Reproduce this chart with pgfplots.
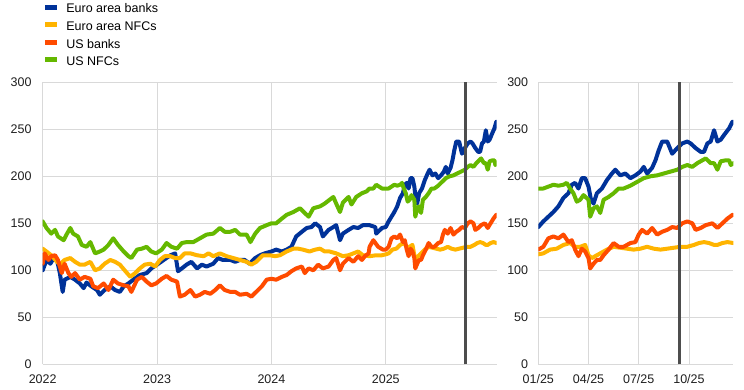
\documentclass[border=0pt]{standalone}
\usepackage{fontspec}
\setmainfont{Liberation Sans}
\usepackage{pgfplots}
\pgfplotsset{compat=1.18}
\usepackage{pgfplotstable}
\definecolor{eab}{HTML}{003299}
\definecolor{ean}{HTML}{FFB400}
\definecolor{usb}{HTML}{FF4B00}
\definecolor{usn}{HTML}{65B800}
\definecolor{gridc}{HTML}{D9D9D9}
\definecolor{vline}{HTML}{4D4D4D}

% m = months since 1 Jan 2022
\pgfplotstableread{
m v
0.0 100
0.4 111
0.8 107
1.1 112
1.5 111
1.8 97
2.1 77
2.3 90
2.9 93
3.4 90
3.9 86
4.3 81
4.6 87
5.1 83
5.7 79
6.0 74
6.5 79
7.1 83
7.6 79
8.1 77
8.5 83
9.0 86
9.5 90
10.2 95
10.9 97
11.4 102
12.0 106
12.7 111
13.4 116
13.9 118
14.2 99
14.6 102
15.1 106
15.6 109
16.2 102
16.7 106
17.2 104
17.9 107
18.4 113
18.9 111
19.7 111
20.2 109
20.7 111
21.2 111
21.7 107
22.3 113
22.8 116
23.3 118
24.0 120
24.5 122
25.1 120
25.6 122
26.1 125
26.6 136
27.2 141
27.7 145
28.2 146
28.6 150
29.1 146
29.4 136
30.0 143
30.5 146
30.8 148
31.2 132
31.5 139
32.1 143
32.6 146
33.1 145
33.6 148
34.3 148
34.9 146
35.0 139
35.6 145
36.0 146
36.3 152
36.6 157
36.9 162
37.2 168
37.5 177
37.8 182
38.0 191
38.2 193
38.4 187
38.6 198
38.8 198
39.0 189
39.15 175
39.3 171
39.5 182
39.8 187
40.1 196
40.4 203
40.6 207
40.9 201
41.2 203
41.5 198
41.8 201
42.1 205
42.3 210
42.5 203
42.8 209
43.0 217
43.2 228
43.4 237
43.7 237
44.0 224
44.3 230
44.6 235
44.9 237
45.1 235
45.4 230
45.7 226
45.9 226
46.1 235
46.3 237
46.5 249
46.7 237
46.9 239
47.1 244
47.4 251
47.6 258
}\tabEAB

\pgfplotstableread{
m v
0.0 123
0.4 120
0.9 116
1.5 109
1.8 106
2.3 111
2.9 113
3.4 109
3.9 106
4.4 106
5.0 109
5.5 100
6.0 102
6.5 107
7.1 111
7.6 109
8.1 106
8.6 100
9.2 93
9.7 97
10.2 102
10.7 106
11.3 107
11.8 104
12.3 111
12.8 115
13.4 115
13.9 113
14.4 113
14.9 118
15.5 118
16.2 116
16.9 115
17.4 118
17.9 115
18.6 118
19.3 115
20.0 113
20.7 111
21.4 109
21.9 106
22.4 109
23.1 116
23.8 116
24.4 115
24.9 116
25.6 120
26.3 123
26.8 123
27.3 122
28.0 120
28.6 122
29.1 123
29.6 120
30.1 120
30.8 118
31.5 115
32.1 116
32.6 118
33.1 120
33.6 116
34.3 115
35.0 116
35.6 116
36.0 117
36.3 118
36.7 122
37.1 123
37.5 127
37.9 129
38.2 125
38.5 125
38.8 127
39.0 116
39.2 113
39.4 115
39.7 118
40.1 122
40.5 125
40.9 124
41.3 123
41.7 122
42.1 123
42.5 125
42.9 123
43.3 122
43.7 123
44.1 124
44.5 125
44.9 125
45.3 127
45.6 129
45.9 130
46.2 129
46.5 127
46.7 127
47.0 129
47.3 130
47.65 129
}\tabEAN

\pgfplotstableread{
m v
0.0 107
0.2 118
0.6 111
0.9 115
1.3 116
1.6 111
2.0 97
2.3 107
2.7 97
3.0 93
3.4 97
3.9 90
4.4 93
5.0 91
5.3 83
5.8 81
6.4 86
6.9 79
7.4 90
7.9 86
8.5 84
9.0 83
9.3 77
9.9 90
10.4 93
10.9 88
11.4 84
11.9 86
12.5 91
13.0 94
13.5 90
14.1 88
14.4 72
14.9 74
15.5 79
16.0 72
16.5 74
17.0 77
17.6 75
18.1 79
18.6 84
19.1 79
19.7 77
20.2 77
20.7 74
21.4 75
21.9 72
22.4 77
23.0 83
23.5 90
24.0 91
24.5 90
25.1 93
25.6 95
26.1 99
26.6 102
27.2 104
27.5 97
27.9 102
28.4 100
28.9 106
29.4 102
30.0 104
30.5 111
30.8 113
31.2 100
31.5 107
32.1 113
32.6 109
33.1 115
33.5 111
33.8 115
34.2 118
34.3 125
34.7 132
35.2 125
35.7 122
36.0 122
36.3 125
36.6 134
36.9 136
37.2 134
37.5 138
37.8 130
38.0 132
38.2 122
38.4 115
38.6 123
38.8 120
39.0 113
39.1 102
39.3 107
39.5 111
39.7 111
39.9 116
40.2 122
40.5 129
40.8 125
41.1 125
41.5 129
41.8 130
42.0 138
42.2 143
42.5 139
42.8 145
43.1 138
43.4 141
43.7 143
44.0 146
44.3 145
44.6 150
44.9 152
45.2 150
45.4 143
45.7 145
46.0 148
46.4 150
46.7 145
47.0 150
47.3 155
47.6 159
}\tabUSB

\pgfplotstableread{
m v
0.0 152
0.4 145
0.9 139
1.3 143
1.6 136
2.2 132
2.5 138
2.9 145
3.2 139
3.7 136
4.1 127
4.6 125
5.0 130
5.5 118
6.0 120
6.4 122
6.9 127
7.4 134
7.9 127
8.5 120
9.0 115
9.3 113
9.9 122
10.4 123
10.9 125
11.4 120
11.9 118
12.5 122
13.0 129
13.5 125
14.1 123
14.6 129
15.1 130
15.8 130
16.5 134
17.2 138
17.9 139
18.6 145
19.1 141
19.7 141
20.2 143
20.7 138
21.4 138
21.8 130
22.3 139
22.8 145
23.5 148
24.0 150
24.5 150
25.1 155
25.6 159
26.3 162
27.0 166
27.5 161
27.9 157
28.4 166
29.1 168
29.6 171
30.1 175
30.5 178
30.8 171
31.2 162
31.5 172
32.1 178
32.4 170
32.9 178
33.5 182
34.0 184
34.3 187
34.7 187
35.0 191
35.6 187
36.0 187
36.3 187
36.6 189
36.9 191
37.2 190
37.5 191
37.7 193
37.9 187
38.1 182
38.3 173
38.5 175
38.7 180
39.0 175
39.1 157
39.3 166
39.5 168
39.7 161
39.9 175
40.2 178
40.5 182
40.8 187
41.1 187
41.5 190
41.9 194
42.3 198
42.7 200
43.1 201
43.5 203
43.9 205
44.3 207
44.6 210
44.9 212
45.2 210
45.5 214
45.8 217
46.0 219
46.3 214
46.5 214
46.7 207
46.9 216
47.2 217
47.4 217
47.5 212
47.65 214
}\tabUSN

\begin{document}
\begin{tikzpicture}
\useasboundingbox (0,0) rectangle (744pt,390pt);
\pgfplotsset{
  common/.style={
    scale only axis,
    height=282pt,
    ymin=0, ymax=300,
    ytick={0,50,100,150,200,250,300},
    grid=major,
    grid style={color=gridc, line width=0.8pt},
    axis line style={draw=none},
    major tick length=0pt,
    tick label style={font=\fontsize{12.5}{15}\selectfont, text=black!88},
    /pgf/number format/assume math mode=true,
    yticklabel style={anchor=east, inner sep=0pt},
    xticklabel style={anchor=north, inner sep=0pt, yshift=-10pt},
    every axis plot/.append style={line width=4pt, line join=round, line cap=round},
  },
}
\begin{axis}[common,
  at={(42.7pt,25.7pt)}, anchor=south west,
  width=454pt,
  xmin=2022, xmax=2025.97,
  xtick={2022,2023,2024,2025},
  xticklabels={2022,2023,2024,2025},
  yticklabel style={xshift=-11pt},
  legend cell align=left,
  legend style={at={(axis description cs:0,1)}, anchor=north west,
    yshift=78.3pt, draw=none, fill=none, inner sep=0pt, outer sep=0pt,
    row sep=4.8pt,
    font=\fontsize{12.5}{15}\selectfont,
    nodes={inner sep=0pt, text height=9pt, text depth=2.5pt},
    /tikz/every odd column/.append style={column sep=9pt}},
  legend image code/.code={\fill[draw=none] (0pt,0pt) rectangle (12.6pt,5pt); \path (0pt,-5pt);},
]
\addplot[color=eab] table[x expr=2022+\thisrow{m}/12, y=v] {\tabEAB};
\addlegendentry{Euro area banks}
\addplot[color=ean] table[x expr=2022+\thisrow{m}/12, y=v] {\tabEAN};
\addlegendentry{Euro area NFCs}
\addplot[color=usb] table[x expr=2022+\thisrow{m}/12, y=v] {\tabUSB};
\addlegendentry{US banks}
\addplot[color=usn] table[x expr=2022+\thisrow{m}/12, y=v] {\tabUSN};
\addlegendentry{US NFCs}
\addplot[color=vline, line width=3pt, line cap=butt, forget plot] coordinates {(2025.7,0) (2025.7,300)};
\end{axis}

\begin{axis}[common,
  at={(538.3pt,25.7pt)}, anchor=south west,
  width=195pt,
  xmin=0, xmax=11.65,
  xtick={0,3,6,9},
  xticklabels={01/25,04/25,07/25,10/25},
  yticklabel style={xshift=-10pt},
]
\addplot[color=eab, restrict x to domain=-0.01:12] table[x expr=\thisrow{m}-36, y=v] {\tabEAB};
\addplot[color=ean, restrict x to domain=-0.01:12] table[x expr=\thisrow{m}-36, y=v] {\tabEAN};
\addplot[color=usb, restrict x to domain=-0.01:12] table[x expr=\thisrow{m}-36, y=v] {\tabUSB};
\addplot[color=usn, restrict x to domain=-0.01:12] table[x expr=\thisrow{m}-36, y=v] {\tabUSN};
\addplot[color=vline, line width=3pt, line cap=butt] coordinates {(8.43,0) (8.43,300)};
\end{axis}
\end{tikzpicture}
\end{document}
